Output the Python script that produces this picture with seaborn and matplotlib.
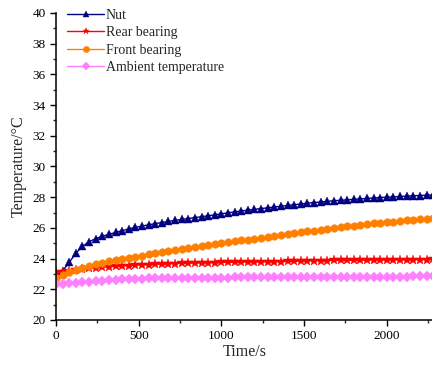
import numpy as np
import pandas as pd
import matplotlib
matplotlib.use("Agg")
import matplotlib.pyplot as plt
import seaborn as sns
from matplotlib.ticker import MultipleLocator

time_s = [0, 40, 80, 120, 160, 200, 240, 280, 320, 360, 400, 440, 480, 520, 560,
          600, 640, 680, 720, 760, 800, 840, 880, 920, 960, 1000, 1040, 1080, 1120,
          1160, 1200, 1240, 1280, 1320, 1360, 1400, 1440, 1480, 1520, 1560, 1600,
          1640, 1680, 1720, 1760, 1800, 1840, 1880, 1920, 1960, 2000, 2040, 2080,
          2120, 2160, 2200, 2240, 2280]

nut = [22.85, 23.2, 23.75, 24.35, 24.8, 25.1, 25.3, 25.45, 25.58, 25.7, 25.82, 25.93,
       26.03, 26.12, 26.2, 26.28, 26.35, 26.42, 26.49, 26.55, 26.61, 26.67, 26.73,
       26.79, 26.85, 26.92, 26.98, 27.04, 27.1, 27.16, 27.21, 27.26, 27.31, 27.36,
       27.41, 27.46, 27.51, 27.56, 27.61, 27.65, 27.69, 27.73, 27.77, 27.8, 27.83,
       27.86, 27.89, 27.92, 27.95, 27.98, 28.0, 28.02, 28.05, 28.07, 28.09, 28.11,
       28.13, 28.15]

rear_bearing = [23.1, 23.15, 23.2, 23.26, 23.32, 23.37, 23.41, 23.44, 23.47, 23.5,
                23.53, 23.55, 23.57, 23.59, 23.61, 23.63, 23.65, 23.67, 23.68, 23.69,
                23.7, 23.71, 23.72, 23.73, 23.74, 23.75, 23.76, 23.76, 23.77, 23.78,
                23.78, 23.79, 23.8, 23.8, 23.81, 23.82, 23.83, 23.84, 23.85, 23.86,
                23.87, 23.87, 23.88, 23.88, 23.89, 23.89, 23.9, 23.9, 23.91, 23.91,
                23.91, 23.92, 23.92, 23.93, 23.93, 23.94, 23.94, 23.95]

front_bearing = [22.75, 22.95, 23.1, 23.25, 23.4, 23.52, 23.63, 23.73, 23.82, 23.9,
                 23.98, 24.05, 24.13, 24.2, 24.27, 24.34, 24.41, 24.48, 24.54, 24.61,
                 24.68, 24.74, 24.8, 24.87, 24.93, 25.0, 25.06, 25.12, 25.18, 25.24,
                 25.3, 25.36, 25.42, 25.48, 25.54, 25.6, 25.66, 25.72, 25.77, 25.83,
                 25.89, 25.94, 26.0, 26.05, 26.1, 26.15, 26.2, 26.25, 26.29, 26.33,
                 26.37, 26.41, 26.45, 26.49, 26.53, 26.57, 26.61, 26.65]

ambient = [22.32, 22.37, 22.41, 22.44, 22.47, 22.5, 22.53, 22.56, 22.59, 22.62, 22.65,
           22.67, 22.69, 22.7, 22.71, 22.72, 22.73, 22.74, 22.74, 22.75, 22.75, 22.75,
           22.76, 22.76, 22.76, 22.76, 22.76, 22.77, 22.77, 22.77, 22.77, 22.77, 22.77,
           22.78, 22.78, 22.78, 22.78, 22.78, 22.79, 22.79, 22.79, 22.8, 22.8, 22.8,
           22.8, 22.81, 22.81, 22.81, 22.82, 22.82, 22.82, 22.83, 22.83, 22.83, 22.84,
           22.84, 22.85, 22.85]

# name, values, colour, marker, marker size
series = [
    ("Nut", nut, "#000080", "^", 6),
    ("Rear bearing", rear_bearing, "#FF0000", "*", 7.5),
    ("Front bearing", front_bearing, "#FF8000", "o", 5.5),
    ("Ambient temperature", ambient, "#FF80FF", "D", 5),
]

sns.set_style("ticks")
plt.rcParams["font.family"] = ["Liberation Serif", "DejaVu Serif"]

fig = plt.figure(figsize=(4.32, 3.69), dpi=100)
ax = fig.add_axes([0.1296, 0.1328, 0.875, 0.832])

for name, vals, col, mk, ms in series:
    df = pd.DataFrame({"t": time_s, "v": vals})
    sns.lineplot(data=df, x="t", y="v", ax=ax, color=col, marker=mk,
                 markersize=ms, markeredgewidth=0.3, markeredgecolor=col,
                 linewidth=1, label=name)

ax.set_xlim(0, 2285)
ax.set_ylim(20, 40)
ax.xaxis.set_major_locator(MultipleLocator(500))
ax.xaxis.set_minor_locator(MultipleLocator(250))
ax.yaxis.set_major_locator(MultipleLocator(2))
ax.yaxis.set_minor_locator(MultipleLocator(1))
ax.tick_params(which="major", direction="out", length=4, width=1, labelsize=9.5, colors="black")
ax.tick_params(which="minor", direction="out", length=2.5, width=1)
for s in ["left", "bottom"]:
    ax.spines[s].set_linewidth(1.1)
    ax.spines[s].set_color("black")
sns.despine(ax=ax)

ax.set_xlabel("Time/s", fontsize=11.5, labelpad=1)
ax.set_ylabel("Temperature/°C", fontsize=11.5, labelpad=4)

leg = ax.legend(loc="upper left", frameon=False, fontsize=10, handlelength=2.6,
                handletextpad=0.15, borderaxespad=0.1, labelspacing=0.3,
                bbox_to_anchor=(0.012, 1.035))
for h in leg.legend_handles:
    h.set_markersize(4.5)

fig.savefig("out.png", dpi=100)
